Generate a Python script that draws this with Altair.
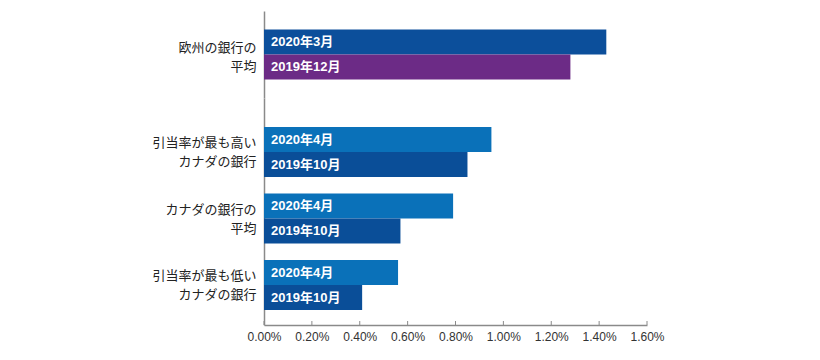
import altair as alt
import pandas as pd

# ---- data ----
groups = ["欧州の銀行の\n平均", "引当率が最も高い\nカナダの銀行", "カナダの銀行の\n平均", "引当率が最も低い\nカナダの銀行"]
recent_periods = ["2020年3月", "2020年4月", "2020年4月", "2020年4月"]
prior_periods = ["2019年12月", "2019年10月", "2019年10月", "2019年10月"]
recent_values = [1.43, 0.95, 0.79, 0.56]
prior_values = [1.28, 0.85, 0.57, 0.41]
x_ticks = [0.0, 0.2, 0.4, 0.6, 0.8, 1.0, 1.2, 1.4, 1.6]

period_domain = ["2020年3月", "2019年12月", "2020年4月", "2019年10月"]
period_colors = ["#0c4f9b", "#6c2b86", "#0a71b9", "#0a4e98"]

rows = []
for g, rp, pp, rv, pv in zip(groups, recent_periods, prior_periods, recent_values, prior_values):
    rows.append({"group": g, "slot": "recent", "period": rp, "value": rv})
    rows.append({"group": g, "slot": "prior", "period": pp, "value": pv})
df = pd.DataFrame(rows)
ticks_df = pd.DataFrame({"value": x_ticks})

LATIN = "Liberation Sans, Noto Sans CJK JP"
CJK = "Noto Sans CJK JP"
AXIS_GRAY = "#8a8a8a"

x_scale = alt.Scale(domain=[0, 1.6], nice=False)
x_axis = alt.Axis(values=x_ticks, labelExpr="format(datum.value, '.2f') + '%'",
                  ticks=False, tickSize=0, grid=False, domainColor=AXIS_GRAY, domainWidth=1.5,
                  labelFont=LATIN, labelFontSize=12, labelColor="#333333", labelPadding=6,
                  labelFlush=False, title=None)


def y_axis(offset):
    return alt.Axis(title=None, ticks=False, labelPadding=8, labelFont=CJK, labelFontSize=13,
                    labelColor="#222222", labelLineHeight=19, labelLimit=0, labelOffset=offset,
                    labelExpr="split(datum.label, '\\n')", domainColor=AXIS_GRAY,
                    domainWidth=1.5, minExtent=256)


def panel(sub, order, height, yscale, show_x, offset):
    base = alt.Chart(sub).encode(
        y=alt.Y("group:N", sort=order, scale=yscale, axis=y_axis(offset)),
        yOffset=alt.YOffset("slot:N", sort=["recent", "prior"],
                            scale=alt.Scale(paddingInner=0, paddingOuter=0)),
    )
    bars = base.mark_bar().encode(
        x=alt.X("value:Q", scale=x_scale, axis=x_axis if show_x else None),
        color=alt.Color("period:N", scale=alt.Scale(domain=period_domain, range=period_colors), legend=None),
    )
    labels = base.mark_text(align="left", baseline="middle", dx=7, color="white",
                            fontWeight="bold", fontSize=13, font=LATIN).encode(
        x=alt.datum(0),
        text="period:N",
    )
    layers = [bars, labels]
    if show_x:
        ticks = alt.Chart(ticks_df).mark_rule(color=AXIS_GRAY, strokeWidth=1).encode(
            x=alt.X("value:Q", scale=x_scale, axis=x_axis),
            y=alt.value(height - 4),
            y2=alt.value(height),
        )
        layers.append(ticks)
    return alt.layer(*layers).properties(width=383, height=height)


top = panel(df[df.group == groups[0]], groups[:1], 87,
            alt.Scale(paddingInner=0, paddingOuter=0.37), False, -7)
bottom = panel(df[df.group != groups[0]], groups[1:], 227,
               alt.Scale(paddingInner=0.248, paddingOuter=0.331, align=0.66), True, -9)

chart = alt.vconcat(top, bottom, spacing=0).resolve_scale(
    y="independent", x="independent"
).properties(
    padding={"left": 0, "top": 3, "right": 30, "bottom": 5}
).configure(background="white").configure_view(stroke=None)

chart.save("out.html", embed_options={"renderer": "svg", "actions": False})
